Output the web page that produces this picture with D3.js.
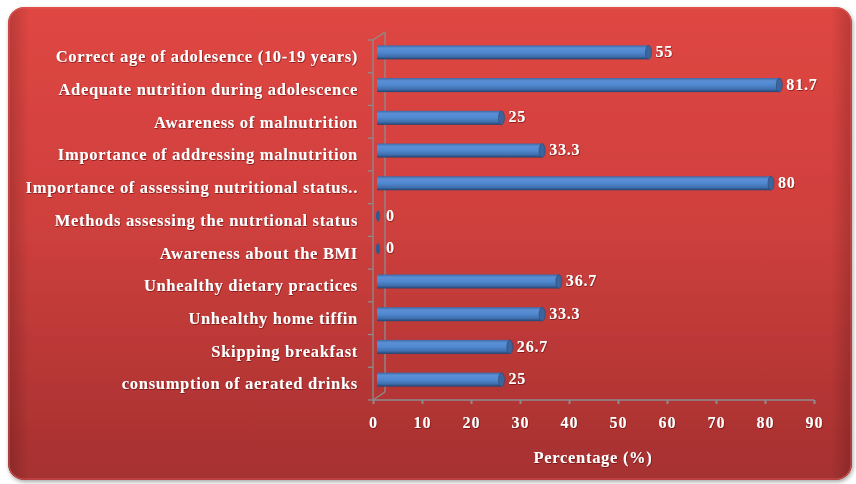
<!DOCTYPE html>
<html>
<head>
<meta charset="utf-8">
<script src="https://cdn.jsdelivr.net/npm/d3@7"></script>
<style>
html,body{margin:0;padding:0;background:#fff;}
svg{display:block;}
</style>
</head>
<body>
<div id="chart"></div>
<script>
const categories = [
  "Correct age of adolesence (10-19 years)",
  "Adequate nutrition during adolescence",
  "Awareness of malnutrition",
  "Importance of addressing malnutrition",
  "Importance of assessing nutritional status..",
  "Methods assessing the nutrtional status",
  "Awareness about the BMI",
  "Unhealthy dietary practices",
  "Unhealthy home tiffin",
  "Skipping breakfast",
  "consumption of aerated drinks"
];
const values = [55, 81.7, 25, 33.3, 80, 0, 0, 36.7, 33.3, 26.7, 25];
const valueLabels = ["55", "81.7", "25", "33.3", "80", "0", "0", "36.7", "33.3", "26.7", "25"];
const xTicks = [0, 10, 20, 30, 40, 50, 60, 70, 80, 90];
const xTitle = "Percentage (%)";

const W = 856, H = 484;
const svg = d3.select("#chart").append("svg").attr("width", W).attr("height", H);
const defs = svg.append("defs");

const bg = defs.append("linearGradient").attr("id", "bg").attr("x1", 0).attr("y1", 0).attr("x2", 0).attr("y2", 1);
bg.append("stop").attr("offset", "0%").attr("stop-color", "#df4643");
bg.append("stop").attr("offset", "45%").attr("stop-color", "#cf403d");
bg.append("stop").attr("offset", "100%").attr("stop-color", "#a63030");

const sideShade = defs.append("linearGradient").attr("id", "side").attr("x1", 0).attr("y1", 0).attr("x2", 1).attr("y2", 0);
sideShade.append("stop").attr("offset", "0%").attr("stop-color", "#000").attr("stop-opacity", 0.18);
sideShade.append("stop").attr("offset", "2.5%").attr("stop-color", "#000").attr("stop-opacity", 0);
sideShade.append("stop").attr("offset", "97.5%").attr("stop-color", "#000").attr("stop-opacity", 0);
sideShade.append("stop").attr("offset", "100%").attr("stop-color", "#000").attr("stop-opacity", 0.18);

const barG = defs.append("linearGradient").attr("id", "bar").attr("x1", 0).attr("y1", 0).attr("x2", 0).attr("y2", 1);
barG.append("stop").attr("offset", "0%").attr("stop-color", "#3d6aa6");
barG.append("stop").attr("offset", "20%").attr("stop-color", "#5b8fd6");
barG.append("stop").attr("offset", "50%").attr("stop-color", "#5088cf");
barG.append("stop").attr("offset", "80%").attr("stop-color", "#3f6fae");
barG.append("stop").attr("offset", "100%").attr("stop-color", "#23426c");

const shadow = defs.append("filter").attr("id", "panelShadow").attr("x", "-5%").attr("y", "-5%").attr("width", "110%").attr("height", "110%");
shadow.append("feDropShadow").attr("dx", 1).attr("dy", 2).attr("stdDeviation", 2).attr("flood-color", "#000").attr("flood-opacity", 0.35);

const txtShadow = defs.append("filter").attr("id", "ts").attr("x", "-10%").attr("y", "-30%").attr("width", "120%").attr("height", "160%");
txtShadow.append("feDropShadow").attr("dx", 0.6).attr("dy", 0.8).attr("stdDeviation", 0.6).attr("flood-color", "#5a0000").attr("flood-opacity", 0.7);

// Panel
svg.append("rect").attr("x", 8).attr("y", 7).attr("width", 844).attr("height", 473)
  .attr("rx", 16).attr("ry", 16).attr("fill", "url(#bg)").attr("filter", "url(#panelShadow)");
svg.append("rect").attr("x", 8).attr("y", 7).attr("width", 844).attr("height", 473)
  .attr("rx", 16).attr("ry", 16).attr("fill", "url(#side)");
svg.append("rect").attr("x", 9).attr("y", 8).attr("width", 842).attr("height", 471)
  .attr("rx", 15).attr("ry", 15).attr("fill", "none").attr("stroke", "#e86460").attr("stroke-opacity", 0.6).attr("stroke-width", 1.2);

// Scales
const x = d3.scaleLinear().domain([0, 90]).range([373, 814]);
const y = d3.scaleBand().domain(categories).range([40, 400]).padding(0);
const dx = 12, dy = 8;
const axisColor = "#8d8d8d";
const font = "'Liberation Serif', 'Times New Roman', serif";

// 3D walls
const wall = svg.append("g").attr("stroke", axisColor).attr("fill", "none").attr("stroke-width", 1.3);
wall.append("line").attr("x1", x(0) + dx).attr("x2", x(0) + dx).attr("y1", 40 - dy).attr("y2", 400 - dy);
wall.append("line").attr("x1", x(0)).attr("x2", x(0) + dx).attr("y1", 40).attr("y2", 40 - dy);
wall.append("line").attr("x1", x(0)).attr("x2", x(0) + dx).attr("y1", 400).attr("y2", 400 - dy);

// Y axis (category)
const yg = svg.append("g").attr("transform", `translate(${x(0)},0)`);
const yTickPos = d3.range(categories.length + 1).map(i => 40 + i * y.step());
yg.selectAll("line.t").data(yTickPos).join("line").attr("class", "t")
  .attr("x1", -5).attr("x2", 0).attr("y1", d => d).attr("y2", d => d)
  .attr("stroke", axisColor).attr("stroke-width", 1.3);
yg.append("line").attr("x1", 0).attr("x2", 0).attr("y1", 40).attr("y2", 400)
  .attr("stroke", axisColor).attr("stroke-width", 1.3);

// X axis
const xAxis = d3.axisBottom(x).tickValues(xTicks).tickSize(4).tickPadding(13).tickFormat(d3.format("d"));
const xg = svg.append("g").attr("transform", "translate(0,400)").call(xAxis);
xg.select(".domain").attr("stroke", axisColor).attr("stroke-width", 1.3).attr("d", `M${x(0)},0H${x(90)}`);
xg.selectAll(".tick line").attr("stroke", axisColor).attr("stroke-width", 2);
xg.selectAll(".tick text").attr("fill", "#fff").attr("font-family", font)
  .attr("font-weight", "bold").attr("font-size", 16).attr("letter-spacing", 1).attr("filter", "url(#ts)");

// Category labels
svg.append("g").selectAll("text").data(categories).join("text")
  .attr("x", 358).attr("y", d => y(d) + y.bandwidth() / 2 + 2)
  .attr("text-anchor", "end").attr("dominant-baseline", "middle")
  .attr("fill", "#fff").attr("font-family", font).attr("font-weight", "bold")
  .attr("font-size", 16.5).attr("letter-spacing", 0.7).attr("filter", "url(#ts)")
  .text(d => d);

// Bars
const bh = 14;
const bars = svg.append("g").selectAll("g").data(categories).join("g");
bars.each(function(c, i) {
  const g = d3.select(this);
  const v = values[i];
  const cy = y(c) + y.bandwidth() / 2 - 4;
  const x0 = x(0) + 4, x1 = x(v) + 6;
  if (v > 0) {
    g.append("rect").attr("x", x0).attr("y", cy - bh / 2).attr("width", x1 - x0).attr("height", bh)
      .attr("fill", "url(#bar)");
    g.append("ellipse").attr("cx", x1).attr("cy", cy).attr("rx", 3).attr("ry", bh / 2)
      .attr("fill", "#3b659c").attr("stroke", "#2a4a75").attr("stroke-width", 0.6);
  } else {
    g.append("ellipse").attr("cx", x0 + 1).attr("cy", cy).attr("rx", 2).attr("ry", 5.5)
      .attr("fill", "#2f5a90");
  }
  g.append("text").attr("x", x1 + 7).attr("y", cy + 1).attr("dominant-baseline", "middle")
    .attr("fill", "#fff").attr("font-family", font).attr("font-weight", "bold")
    .attr("font-size", 16).attr("letter-spacing", 0.8).attr("filter", "url(#ts)")
    .text(valueLabels[i]);
});

// X title
svg.append("text").attr("x", 593).attr("y", 459).attr("text-anchor", "middle").attr("dominant-baseline", "middle")
  .attr("fill", "#fff").attr("font-family", font).attr("font-weight", "bold").attr("font-size", 16.5)
  .attr("letter-spacing", 0.7).attr("filter", "url(#ts)").text(xTitle);
</script>
</body>
</html>
